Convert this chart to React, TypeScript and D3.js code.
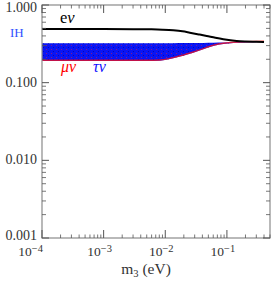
import React from "react";
import * as d3 from "d3";

// e-flavour fraction vs lightest mass m3 (inverted hierarchy)
const m3Line = [1e-4, 1e-3, 3e-3, 6e-3, 0.009, 0.0135, 0.019, 0.025, 0.035, 0.047, 0.065, 0.0875, 0.144, 0.2, 0.3, 0.4];
const eNu = [0.49, 0.49, 0.489, 0.486, 0.481, 0.472, 0.458, 0.44, 0.418, 0.399, 0.378, 0.362, 0.344, 0.339, 0.336, 0.334];

// mu / tau band (scatter envelope)
const m3Band = [1e-4, 1e-3, 5e-3, 0.0082, 0.0135, 0.0196, 0.0285, 0.0414, 0.06, 0.0875, 0.127, 0.2, 0.4];
const bandLow = [0.19, 0.19, 0.19, 0.192, 0.206, 0.222, 0.243, 0.269, 0.297, 0.315, 0.325, 0.33, 0.334];
const bandHigh = [0.322, 0.322, 0.322, 0.322, 0.322, 0.323, 0.324, 0.325, 0.327, 0.329, 0.331, 0.333, 0.336];

const yTickLabels = ["1.000", "0.100", "0.010", "0.001"];
const yTickValues = [1, 0.1, 0.01, 0.001];
const xTickValues = [1e-4, 1e-3, 1e-2, 1e-1];
const xTickExp = ["-4", "-3", "-2", "-1"];

const W = 273;
const H = 281;
const frame = { left: 42, right: 270, top: 5, bottom: 238 };
const serif = "'Liberation Serif', 'DejaVu Serif', serif";

export default function App() {
  const x = d3.scaleLog().domain([1e-4, 0.5]).range([frame.left, frame.right]);
  const y = d3.scaleLog().domain([0.001, 1]).range([frame.bottom, frame.top]);

  const line = d3
    .line<number>()
    .x((_, i) => x(m3Line[i]))
    .y((d) => y(d))
    .curve(d3.curveMonotoneX);

  const band = d3
    .area<number>()
    .x((_, i) => x(m3Band[i]))
    .y0((_, i) => y(bandLow[i]))
    .y1((_, i) => y(bandHigh[i]))
    .curve(d3.curveMonotoneX);

  const redEdge = d3
    .area<number>()
    .x((_, i) => x(m3Band[i]))
    .y0((_, i) => y(bandLow[i]))
    .y1((_, i) => y(bandLow[i]) - 1.4)
    .curve(d3.curveMonotoneX);

  const idx = m3Band.map((_, i) => i);

  // minor ticks
  const yMinor: number[] = [];
  const xMinor: number[] = [];
  for (let e = -3; e < 0; e++) for (let k = 2; k <= 9; k++) yMinor.push(k * Math.pow(10, e));
  for (let e = -4; e < 0; e++)
    for (let k = 2; k <= 9; k++) {
      const v = k * Math.pow(10, e);
      if (v <= 0.5) xMinor.push(v);
    }

  const tickCol = "#555";

  return (
    <svg width={W} height={H} style={{ position: "absolute", left: 0, top: 0, background: "#fff" }}>
      <defs>
        <pattern id="speck" width="5" height="4" patternUnits="userSpaceOnUse">
          <rect x="1" y="1" width="1" height="1" fill="#ff2020" opacity="0.5" />
          <rect x="3" y="3" width="1" height="1" fill="#000090" opacity="0.6" />
        </pattern>
      </defs>

      {/* band */}
      <path d={band(idx) || ""} fill="#0a14f4" />
      <path d={band(idx) || ""} fill="url(#speck)" />
      <path d={redEdge(idx) || ""} fill="#ff1010" opacity={0.75} />

      {/* e nu line */}
      <path d={line(eNu) || ""} fill="none" stroke="#000" strokeWidth={2} />

      {/* frame */}
      <rect
        x={frame.left}
        y={frame.top}
        width={frame.right - frame.left}
        height={frame.bottom - frame.top}
        fill="none"
        stroke="#8a8a8a"
        strokeWidth={1.2}
      />

      {/* y ticks */}
      {yTickValues.map((v) => (
        <g key={"ym" + v}>
          <line x1={frame.left} x2={frame.left + 7} y1={y(v)} y2={y(v)} stroke={tickCol} />
          <line x1={frame.right} x2={frame.right - 7} y1={y(v)} y2={y(v)} stroke={tickCol} />
        </g>
      ))}
      {yMinor.map((v) => (
        <g key={"yn" + v}>
          <line x1={frame.left} x2={frame.left + 4} y1={y(v)} y2={y(v)} stroke={tickCol} strokeWidth={0.8} />
          <line x1={frame.right} x2={frame.right - 4} y1={y(v)} y2={y(v)} stroke={tickCol} strokeWidth={0.8} />
        </g>
      ))}

      {/* x ticks */}
      {xTickValues.map((v) => (
        <g key={"xm" + v}>
          <line x1={x(v)} x2={x(v)} y1={frame.bottom} y2={frame.bottom - 8} stroke={tickCol} />
          <line x1={x(v)} x2={x(v)} y1={frame.top} y2={frame.top + 8} stroke={tickCol} />
        </g>
      ))}
      {xMinor.map((v) => (
        <g key={"xn" + v}>
          <line x1={x(v)} x2={x(v)} y1={frame.bottom} y2={frame.bottom - 3.5} stroke={tickCol} strokeWidth={0.8} />
          <line x1={x(v)} x2={x(v)} y1={frame.top} y2={frame.top + 3.5} stroke={tickCol} strokeWidth={0.8} />
        </g>
      ))}

      {/* y tick labels */}
      {yTickValues.map((v, i) => (
        <text
          key={"yl" + v}
          x={37}
          y={i === 0 ? 12 : i === 3 ? y(v) + 1.5 : y(v) + 4}
          textAnchor="end"
          fontFamily={serif}
          fontSize={14}
          fill="#333"
        >
          {yTickLabels[i]}
        </text>
      ))}

      {/* x tick labels */}
      {xTickValues.map((v, i) => (
        <text
          key={"xl" + v}
          x={i === 0 ? x(v) + 1 : x(v) - 4}
          y={256}
          textAnchor={i === 0 ? "end" : "middle"}
          fontFamily={serif}
          fontSize={13.5}
          fill="#333"
        >
          10
          <tspan dy={-4} fontSize={10.5}>
            {"\u2212" + xTickExp[i].slice(1)}
          </tspan>
        </text>
      ))}

      {/* axis title */}
      <text x={146} y={274} textAnchor="middle" fontFamily={serif} fontSize={15.5} fill="#333">
        m
        <tspan dy={3} fontSize={10.5}>
          3
        </tspan>
        <tspan dy={-3}> (eV)</tspan>
      </text>

      {/* annotations */}
      <text x={10} y={37} fontFamily={serif} fontSize={13} fill="#3050ff">
        IH
      </text>
      <text x={60} y={23} fontFamily={serif} fontSize={16.5} fill="#000">
        e<tspan fontStyle="italic">ν</tspan>
      </text>
      <text x={61} y={72} fontFamily={serif} fontSize={16} fontStyle="italic" fill="#ff0000">
        μν
      </text>
      <text x={93} y={72} fontFamily={serif} fontSize={16} fontStyle="italic" fill="#1010ff">
        τν
      </text>
    </svg>
  );
}
